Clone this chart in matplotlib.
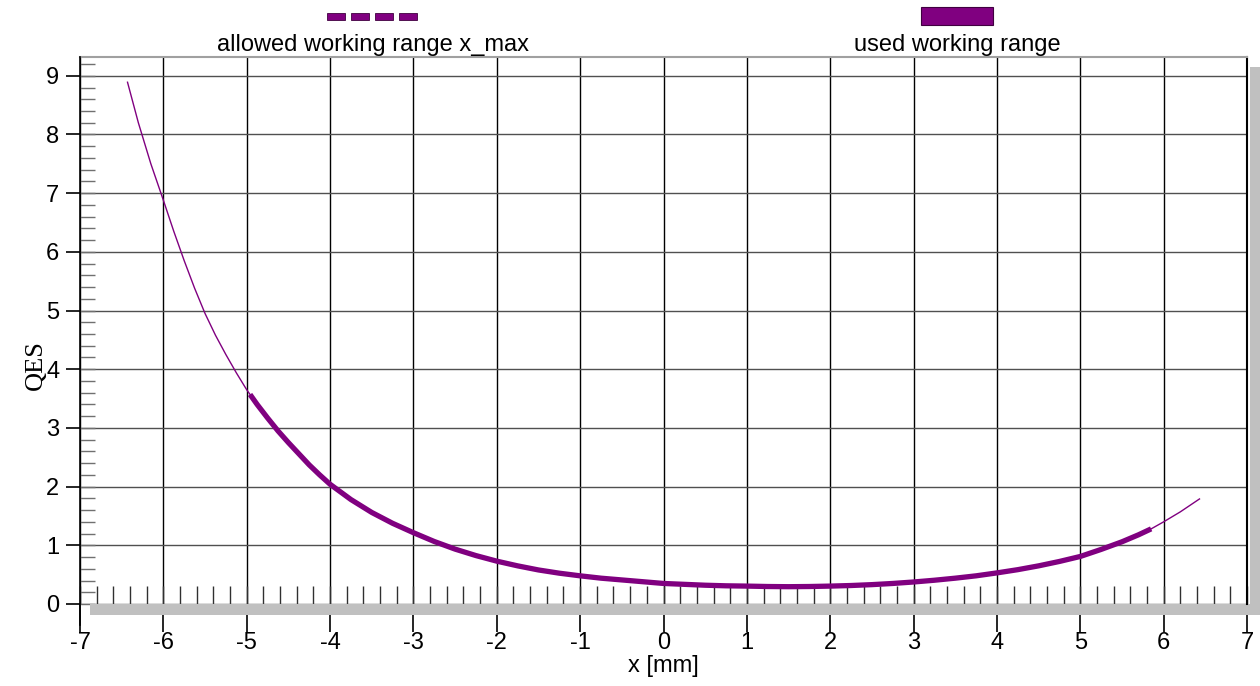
import numpy as np
import matplotlib
matplotlib.use('Agg')
import matplotlib.pyplot as plt
from matplotlib.patches import Rectangle
from matplotlib.ticker import MultipleLocator

plt.rcParams['font.family'] = ['Liberation Sans', 'DejaVu Sans']
plt.rcParams['axes.unicode_minus'] = False

# curve
x_vals = [-6.43, -6.3, -6.15, -6.0, -5.875, -5.75, -5.625, -5.5, -5.375, -5.25, -5.125,
          -5.0, -4.96, -4.875, -4.75, -4.625, -4.5, -4.375, -4.25, -4.125, -4.0,
          -3.75, -3.5, -3.25, -3.0, -2.75, -2.5, -2.25, -2.0, -1.75, -1.5, -1.25,
          -1.0, -0.75, -0.5, -0.25, 0.0, 0.25, 0.5, 0.75, 1.0, 1.25, 1.5, 1.75,
          2.0, 2.25, 2.5, 2.75, 3.0, 3.25, 3.5, 3.75, 4.0, 4.25, 4.5, 4.75,
          5.0, 5.25, 5.5, 5.7, 5.85, 6.0, 6.2, 6.43]
q_vals = [8.89, 8.2, 7.5, 6.88, 6.35, 5.85, 5.38, 4.95, 4.58, 4.25, 3.94,
          3.65, 3.57, 3.40, 3.17, 2.95, 2.75, 2.56, 2.37, 2.20, 2.04,
          1.78, 1.56, 1.375, 1.215, 1.065, 0.935, 0.825, 0.73, 0.65, 0.58, 0.525,
          0.48, 0.44, 0.41, 0.38, 0.35, 0.335, 0.32, 0.31, 0.305, 0.298, 0.295, 0.298,
          0.305, 0.315, 0.33, 0.35, 0.375, 0.405, 0.44, 0.48, 0.53, 0.585, 0.65, 0.725,
          0.81, 0.93, 1.06, 1.18, 1.28, 1.40, 1.57, 1.79]

# used working range limits
used_min = -4.96
used_max = 5.85

x_ticks = list(range(-7, 8))
y_ticks = list(range(0, 10))
purple = '#800080'

x_arr = np.array(x_vals)
q_arr = np.array(q_vals)
used = (x_arr >= used_min) & (x_arr <= used_max)

W, H = 1260, 686
fig = plt.figure(figsize=(W / 100, H / 100), dpi=100)
ax = fig.add_axes([80 / W, 1 - 604 / H, 1167 / W, 547 / H])

ax.set_xlim(-7, 7)
ax.set_ylim(0, 9.32)

ax.plot(x_arr, q_arr, color=purple, lw=1.0, zorder=5)
ax.plot(x_arr[used], q_arr[used], color=purple, lw=3.8, solid_capstyle='butt',
        solid_joinstyle='round', zorder=6)

ax.set_xticks(x_ticks)
ax.set_xticklabels([str(v) for v in x_ticks])
ax.set_yticks(y_ticks)
ax.set_yticklabels([str(v) for v in y_ticks])
ax.xaxis.set_minor_locator(MultipleLocator(0.2))
ax.yaxis.set_minor_locator(MultipleLocator(0.2))
ax.xaxis.remove_overlapping_locs = False
ax.yaxis.remove_overlapping_locs = False

ax.tick_params(axis='x', which='major', direction='out', length=20, width=1.2,
               color='black', labelsize=17, pad=0)
ax.tick_params(axis='x', which='minor', direction='in', length=13, width=1.0, color='#303030')
ax.tick_params(axis='y', which='major', direction='out', length=10, width=1.2,
               color='black', labelsize=17, pad=5)
ax.tick_params(axis='y', which='minor', direction='in', length=11, width=1.0, color='#707070')

ax.grid(True, axis='x', which='major', color='black', lw=1.0)
ax.grid(True, axis='y', which='major', color='#505050', lw=1.0)
ax.set_axisbelow(True)

ax.spines['bottom'].set_visible(False)
ax.spines['left'].set_visible(False)
ax.spines['top'].set_color('#a0a0a0')
ax.spines['top'].set_linewidth(1.5)
ax.spines['right'].set_color('black')
ax.spines['right'].set_linewidth(1.5)

# left axis line extending below zero
ax.plot([0, 0], [-21 / 547, 1], transform=ax.transAxes, color='black', lw=1.2,
        clip_on=False, zorder=7)

# gray shadow band (bottom and right)
ax.add_patch(Rectangle((10 / 1167, -11 / 547), 1168 / 1167, 11 / 547, transform=ax.transAxes,
                       facecolor='#c0c0c0', edgecolor='none', clip_on=False, zorder=1))
ax.add_patch(Rectangle((1170 / 1167, -11 / 547), 10 / 1167, 548 / 547, transform=ax.transAxes,
                       facecolor='#c0c0c0', edgecolor='none', clip_on=False, zorder=1))

ax.set_xlabel('x [mm]', fontsize=17, labelpad=1)
fig.text(36 / W, 1 - 365 / H, 'QES', rotation=90, family='Liberation Serif',
         fontsize=19, ha='center', va='center')

# legend at the top
for i in range(4):
    fig.add_artist(Rectangle(((327 + i * 24) / W, 1 - 20 / H), 18 / W, 7 / H,
                             transform=fig.transFigure, facecolor=purple,
                             edgecolor='#400040', lw=0.6))
fig.text(373 / W, 1 - 45 / H, 'allowed working range x_max', fontsize=17,
         ha='center', va='center')
fig.add_artist(Rectangle((921 / W, 1 - 25 / H), 72 / W, 18 / H, transform=fig.transFigure,
                         facecolor=purple, edgecolor='#400040', lw=0.8))
fig.text(957 / W, 1 - 45 / H, 'used working range', fontsize=17, ha='center', va='center')

fig.savefig('out.png', dpi=100)
